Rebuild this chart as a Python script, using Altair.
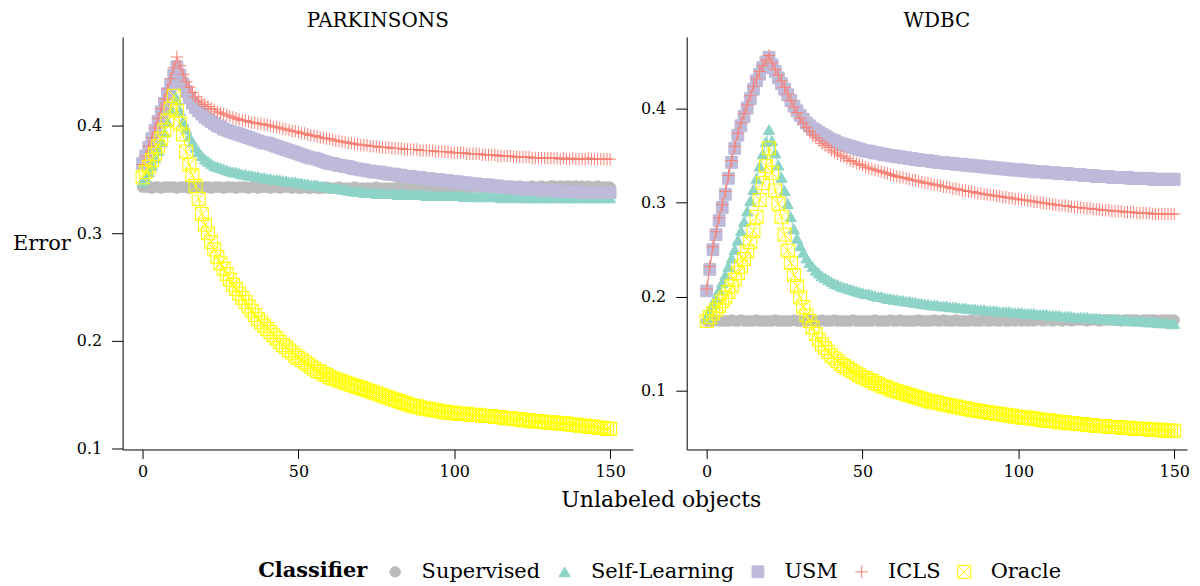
import altair as alt
import pandas as pd

classifiers = ["Supervised", "Self-Learning", "USM", "ICLS", "Oracle"]
colors = ["#BBBBBB", "#8DD3C7", "#BEBADA", "#FB8072", "#FFFF00"]
fills = ["#BBBBBB", "#8DD3C7", "#BEBADA", "transparent", "transparent"]
shapes = ["circle", "triangle-up", "square",
          "M-1,0L1,0M0,-1L0,1",
          "M-1,-1L1,-1L1,1L-1,1ZM-1,-1L1,1M-1,1L1,-1"]
sizes = [110, 170, 130, 200, 150]
x_values = list(range(151))
x_ticks = [0, 50, 100, 150]
y_ticks = [0.1, 0.2, 0.3, 0.4]

# ---------------- Parkinsons ----------------
sup_p = [.343,.343,.343,.342,.343,.343,.342,.343,.343,.343,
         .343,.342,.343,.343,.343,.342,.343,.343,.343,.342,
         .343,.343,.342,.343,.343,.343,.342,.343,.343,.343,
         .342,.343,.343,.343,.342,.343,.343,.342,.343,.343,
         .343,.342,.343,.343,.342,.343,.343,.343,.342,.343,
         .342,.342,.343,.342,.342,.343,.342,.342,.342,.343,
         .342,.342,.342,.343,.342,.342,.342,.342,.343,.342,
         .342,.342,.342,.342,.342,.343,.342,.342,.342,.342,
         .342,.342,.343,.342,.342,.342,.342,.343,.342,.342,
         .342,.342,.342,.343,.342,.342,.343,.342,.342,.343,
         .342,.343,.342,.343,.343,.342,.343,.343,.343,.342,
         .343,.343,.343,.343,.342,.343,.343,.343,.343,.343,
         .343,.344,.343,.343,.343,.344,.343,.343,.344,.343,
         .343,.344,.344,.343,.344,.343,.344,.344,.343,.344,
         .343,.344,.343,.344,.343,.343,.344,.343,.343,.343,
         .343]
sl_p = [.348,.352,.357,.363,.370,.377,.385,.394,.404,.416,
        .430,.424,.414,.404,.397,.390,.385,.380,.376,.372,
        .369,.367,.365,.363,.362,.361,.360,.359,.358,.357,
        .357,.356,.355,.355,.354,.354,.353,.353,.352,.352,
        .351,.351,.350,.350,.350,.349,.349,.348,.348,.348,
        .347,.347,.346,.346,.345,.345,.345,.344,.344,.343,
        .343,.342,.342,.342,.341,.341,.340,.340,.339,.339,
        .339,.338,.338,.338,.338,.337,.337,.337,.337,.337,
        .337,.337,.336,.337,.336,.336,.336,.336,.336,.336,
        .336,.335,.336,.335,.335,.335,.335,.335,.335,.335,
        .335,.335,.335,.334,.335,.334,.334,.334,.334,.334,
        .334,.334,.334,.334,.334,.333,.334,.334,.333,.334,
        .334,.333,.333,.334,.333,.333,.333,.333,.334,.333,
        .333,.333,.333,.334,.333,.333,.333,.333,.333,.333,
        .333,.334,.333,.333,.333,.333,.333,.334,.333,.333,
        .333]
usm_p = [.365,.372,.380,.388,.396,.404,.413,.421,.430,.438,
         .447,.455,.447,.439,.432,.426,.421,.417,.414,.411,
         .408,.406,.404,.402,.400,.399,.397,.396,.395,.394,
         .393,.392,.391,.390,.389,.388,.387,.386,.385,.384,
         .384,.383,.382,.381,.380,.379,.378,.377,.376,.375,
         .374,.373,.372,.371,.370,.370,.369,.368,.367,.366,
         .365,.365,.364,.363,.363,.362,.362,.361,.360,.360,
         .359,.359,.358,.358,.357,.357,.357,.356,.356,.355,
         .355,.355,.354,.354,.353,.353,.353,.352,.352,.352,
         .351,.351,.351,.350,.350,.350,.349,.349,.349,.348,
         .348,.348,.347,.347,.347,.346,.346,.346,.345,.345,
         .345,.345,.344,.344,.344,.343,.343,.343,.343,.342,
         .342,.342,.342,.341,.341,.341,.341,.341,.340,.340,
         .340,.340,.340,.340,.339,.339,.339,.339,.339,.339,
         .339,.338,.338,.338,.338,.338,.338,.338,.338,.338,
         .338]
icls_p = [.364,.372,.381,.389,.398,.407,.416,.425,.434,.444,
          .454,.464,.456,.448,.441,.436,.431,.427,.424,.422,
          .420,.418,.416,.415,.413,.412,.411,.410,.409,.408,
          .407,.406,.405,.405,.404,.403,.403,.402,.402,.401,
          .401,.400,.399,.399,.398,.397,.397,.396,.395,.395,
          .394,.393,.393,.392,.391,.391,.390,.389,.389,.388,
          .388,.387,.386,.386,.385,.385,.384,.384,.383,.383,
          .382,.382,.382,.381,.381,.381,.380,.380,.380,.380,
          .379,.379,.379,.379,.378,.378,.378,.378,.378,.377,
          .377,.377,.377,.377,.376,.376,.376,.376,.376,.375,
          .375,.375,.375,.375,.374,.374,.374,.374,.374,.373,
          .373,.373,.373,.373,.372,.372,.372,.372,.372,.371,
          .371,.371,.371,.371,.371,.370,.370,.370,.370,.370,
          .370,.370,.370,.370,.369,.370,.369,.369,.370,.369,
          .369,.369,.369,.370,.369,.369,.369,.369,.369,.369,
          .369]
or_p = [.352,.357,.362,.368,.374,.381,.388,.396,.405,.416,
        .428,.414,.402,.392,.376,.364,.354,.344,.332,.318,
        .308,.300,.292,.285,.278,.272,.267,.262,.257,.252,
        .248,.244,.240,.236,.232,.228,.224,.220,.217,.214,
        .211,.208,.205,.202,.199,.196,.194,.191,.189,.186,
        .184,.182,.180,.178,.176,.174,.172,.171,.169,.168,
        .166,.165,.164,.163,.162,.161,.160,.159,.158,.157,
        .156,.155,.154,.153,.152,.151,.150,.149,.148,.147,
        .146,.145,.144,.143,.142,.141,.140,.139,.139,.138,
        .137,.137,.136,.136,.135,.135,.134,.134,.133,.133,
        .133,.132,.132,.132,.132,.131,.131,.131,.131,.130,
        .130,.130,.130,.129,.129,.129,.128,.128,.128,.127,
        .127,.127,.126,.126,.126,.125,.125,.125,.125,.124,
        .124,.124,.124,.123,.123,.123,.123,.122,.122,.122,
        .121,.121,.121,.120,.120,.120,.119,.119,.119,.118,
        .118]

# ---------------- WDBC ----------------
sup_w = [.174,.174,.174,.175,.174,.174,.174,.174,.175,.174,
         .174,.175,.174,.174,.174,.174,.175,.174,.174,.174,
         .174,.174,.175,.174,.174,.174,.174,.174,.175,.174,
         .174,.174,.174,.175,.174,.174,.174,.175,.174,.174,
         .174,.175,.174,.174,.174,.174,.174,.175,.174,.174,
         .174,.174,.174,.174,.175,.174,.174,.174,.174,.175,
         .174,.174,.175,.174,.174,.174,.174,.174,.175,.174,
         .174,.174,.174,.175,.174,.174,.175,.174,.174,.174,
         .175,.174,.174,.174,.174,.175,.174,.174,.174,.175,
         .174,.174,.175,.174,.174,.175,.174,.174,.175,.174,
         .175,.174,.175,.174,.175,.174,.175,.175,.174,.175,
         .175,.174,.175,.175,.174,.175,.175,.174,.175,.175,
         .175,.175,.174,.175,.175,.175,.174,.175,.175,.175,
         .175,.175,.175,.174,.175,.175,.175,.175,.175,.174,
         .175,.175,.175,.175,.175,.174,.175,.175,.175,.175,
         .175]
sl_w = [.178,.185,.192,.199,.207,.215,.223,.232,.241,.250,
        .260,.270,.280,.291,.302,.314,.326,.339,.352,.365,
        .378,.366,.353,.340,.327,.313,.299,.285,.272,.262,
        .254,.247,.241,.236,.232,.228,.225,.222,.220,.218,
        .216,.214,.213,.211,.210,.209,.208,.207,.206,.205,
        .204,.203,.203,.202,.201,.200,.200,.199,.198,.198,
        .197,.197,.196,.196,.195,.195,.194,.194,.193,.193,
        .192,.192,.191,.191,.191,.190,.190,.190,.189,.189,
        .189,.188,.188,.188,.187,.187,.187,.186,.186,.186,
        .185,.185,.185,.185,.184,.184,.184,.184,.183,.183,
        .183,.183,.182,.182,.182,.182,.181,.181,.181,.181,
        .180,.180,.180,.180,.179,.179,.179,.179,.178,.178,
        .178,.178,.178,.177,.177,.177,.177,.176,.176,.176,
        .176,.176,.175,.175,.175,.175,.174,.174,.174,.174,
        .174,.173,.173,.173,.173,.172,.172,.172,.172,.171,
        .171]
usm_w = [.206,.229,.250,.266,.281,.295,.309,.326,.343,.358,
         .372,.382,.392,.401,.411,.421,.430,.437,.444,.450,
         .455,.447,.440,.433,.427,.421,.415,.409,.403,.398,
         .393,.389,.385,.382,.379,.377,.375,.373,.371,.369,
         .367,.366,.364,.363,.362,.361,.360,.359,.358,.357,
         .356,.355,.355,.354,.353,.353,.352,.351,.351,.350,
         .350,.349,.349,.348,.348,.347,.347,.346,.346,.345,
         .345,.345,.344,.344,.343,.343,.343,.342,.342,.342,
         .341,.341,.341,.340,.340,.340,.339,.339,.339,.338,
         .338,.338,.337,.337,.337,.336,.336,.336,.335,.335,
         .335,.335,.334,.334,.334,.333,.333,.333,.333,.332,
         .332,.332,.332,.331,.331,.331,.331,.330,.330,.330,
         .330,.329,.329,.329,.329,.328,.328,.328,.328,.328,
         .327,.327,.327,.327,.327,.327,.326,.326,.326,.326,
         .326,.326,.326,.325,.325,.325,.325,.325,.325,.325,
         .325]
icls_w = [.208,.232,.253,.269,.284,.298,.312,.329,.345,.360,
          .374,.385,.395,.404,.414,.424,.432,.440,.446,.452,
          .457,.449,.442,.436,.430,.423,.416,.409,.402,.396,
          .390,.385,.380,.376,.372,.369,.366,.363,.361,.359,
          .356,.354,.352,.350,.349,.347,.345,.344,.342,.341,
          .340,.338,.337,.336,.335,.334,.333,.332,.331,.330,
          .329,.328,.327,.327,.326,.325,.324,.324,.323,.322,
          .321,.321,.320,.319,.319,.318,.317,.317,.316,.315,
          .315,.314,.313,.313,.312,.312,.311,.310,.310,.309,
          .309,.308,.308,.307,.307,.306,.306,.305,.305,.304,
          .304,.303,.303,.302,.302,.301,.301,.300,.300,.299,
          .299,.298,.298,.297,.297,.297,.296,.296,.295,.295,
          .295,.294,.294,.294,.293,.293,.293,.292,.292,.292,
          .291,.291,.291,.291,.290,.290,.290,.290,.289,.289,
          .289,.289,.289,.288,.288,.288,.288,.288,.288,.288,
          .288]
or_w = [.174,.178,.182,.186,.190,.195,.199,.205,.211,.218,
        .225,.232,.240,.248,.258,.270,.285,.303,.321,.339,
        .358,.332,.313,.299,.285,.266,.249,.236,.223,.211,
        .199,.189,.180,.174,.167,.160,.154,.149,.145,.141,
        .137,.134,.131,.128,.126,.124,.122,.120,.118,.116,
        .114,.113,.111,.110,.108,.107,.105,.104,.103,.101,
        .100,.099,.098,.097,.096,.095,.094,.093,.092,.091,
        .090,.089,.088,.088,.087,.086,.085,.085,.084,.083,
        .083,.082,.081,.081,.080,.079,.079,.078,.078,.077,
        .077,.076,.076,.075,.075,.074,.074,.073,.073,.072,
        .072,.071,.071,.071,.070,.070,.069,.069,.068,.068,
        .068,.067,.067,.066,.066,.066,.065,.065,.065,.064,
        .064,.064,.063,.063,.063,.062,.062,.062,.062,.061,
        .061,.061,.061,.060,.060,.060,.060,.059,.059,.059,
        .059,.059,.058,.058,.058,.058,.058,.057,.057,.057,
        .057]

series = {
    "Parkinsons": [sup_p, sl_p, usm_p, icls_p, or_p],
    "WDBC": [sup_w, sl_w, usm_w, icls_w, or_w],
}
rows = []
for ds, lists in series.items():
    for c, vals in zip(classifiers, lists):
        for x, v in zip(x_values, vals):
            rows.append({"Dataset": ds, "Classifier": c, "x": x, "Error": v})
df = pd.DataFrame(rows)

FONT = "DejaVu Serif"

color_enc = alt.Color("Classifier:N", scale=alt.Scale(domain=classifiers, range=colors), title="Classifier")
fill_enc = alt.Fill("Classifier:N", scale=alt.Scale(domain=classifiers, range=fills), title="Classifier")
shape_enc = alt.Shape("Classifier:N", scale=alt.Scale(domain=classifiers, range=shapes), title="Classifier")
size_enc = alt.Size("Classifier:N", scale=alt.Scale(domain=classifiers, range=sizes), title="Classifier")


def panel(ds, title, ydom, xdom, first, width):
    base = alt.Chart(df[df.Dataset == ds])
    if first:
        xaxis = alt.Axis(values=x_ticks, title="Unlabeled objects", titleX=540,
                         titlePadding=10)
        yaxis = alt.Axis(values=y_ticks, format=".1f", title="Error", titleAngle=0,
                         titleAlign="right", titleBaseline="middle", titlePadding=6,
                         titleFontSize=21)
    else:
        xaxis = alt.Axis(values=x_ticks, title=None)
        yaxis = alt.Axis(values=y_ticks, format=".1f", title=None)
    xenc = alt.X("x:Q", scale=alt.Scale(domain=xdom, nice=False, zero=False), axis=xaxis)
    yenc = alt.Y("Error:Q", scale=alt.Scale(domain=ydom, nice=False, zero=False), axis=yaxis)
    layers = []
    for c in classifiers:
        sub = base.transform_filter(alt.datum.Classifier == c)
        layers.append(sub.mark_line(strokeWidth=1).encode(x=xenc, y=yenc, color=color_enc))
        layers.append(sub.mark_point(filled=False, opacity=1, strokeWidth=1).encode(
            x=xenc, y=yenc, color=color_enc, fill=fill_enc, shape=shape_enc, size=size_enc))
    return alt.layer(*layers).properties(
        width=width, height=414,
        title=alt.TitleParams(title, font=FONT, fontSize=20, fontWeight="normal",
                              frame="group", anchor="middle", offset=6),
    )


left = panel("Parkinsons", "PARKINSONS", [0.0988, 0.4828], [-6.4, 157.3], True, 512)
right = panel("WDBC", "WDBC", [0.037, 0.4768], [-6.4, 154.1], False, 502)

chart = alt.hconcat(left, right, spacing=54, bounds="flush").properties(
    padding={"left": 4, "top": 2, "right": 2, "bottom": 2}
).configure_view(stroke=None).configure_axis(
    grid=False, domainColor="black", domainWidth=1, tickColor="black", tickWidth=1,
    labelFont=FONT, labelFontSize=16, labelColor="black",
    titleFont=FONT, titleFontSize=22, titleFontWeight="normal", titleColor="black",
).configure_axisX(tickSize=9, labelPadding=5).configure_axisY(
    tickSize=11, labelPadding=10
).configure_legend(
    orient="none", legendX=136, legendY=526, direction="horizontal",
    titleOrient="left", titleFont=FONT, titleFontSize=21, titleFontWeight="bold",
    titleColor="black", titlePadding=17, labelFont=FONT, labelFontSize=21, labelColor="black",
    symbolStrokeWidth=1, columnPadding=13, labelOffset=16,
)

chart.save("out.html", embed_options={"renderer": "svg", "actions": False})
